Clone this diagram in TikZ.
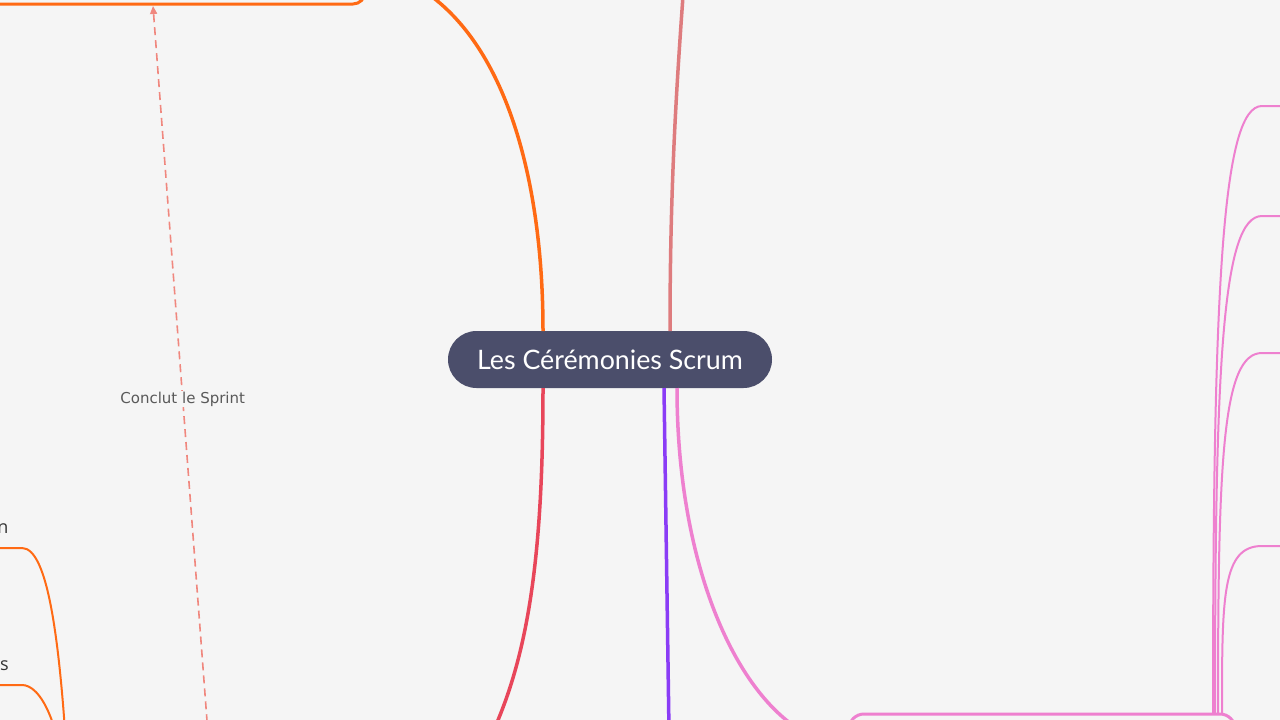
\documentclass[tikz,border=0pt]{standalone}
\usepackage{fontspec}
\setmainfont{Open Sans}
\newfontfamily\rootfont{Lato}
\newfontfamily\linkfont{DejaVu Sans}
\usetikzlibrary{arrows.meta}

\definecolor{bgcol}{HTML}{F5F5F5}
\definecolor{rootcol}{HTML}{4B4E6B}
\definecolor{orangecol}{HTML}{FF6A14}
\definecolor{redcol}{HTML}{E8465A}
\definecolor{salmoncol}{HTML}{DE7C7E}
\definecolor{purplecol}{HTML}{8A3CF6}
\definecolor{pinkcol}{HTML}{EE80CF}
\definecolor{linkcol}{HTML}{F0877E}

\tikzset{
  branch/.style={line width=3.5pt},
  twig/.style={line width=2pt},
  rootbox/.style={fill=rootcol, text=white, rounded corners=28.5pt,
    minimum width=324pt, minimum height=57pt, inner sep=0pt, outer sep=0pt,
    font=\rootfont\fontsize{26.8}{30}\selectfont},
  topicbox/.style={line width=3pt, inner sep=0pt, outer sep=0pt},
  kidtext/.style={text=black!80, inner sep=0pt, font=\fontsize{18}{22}\selectfont},
  dashlink/.style={linkcol, line width=1.6pt, dash pattern=on 8pt off 5pt,
    -{Triangle[length=8pt,width=7pt]}},
  linklabel/.style={fill=bgcol, text=black!65, inner sep=1pt,
    font=\linkfont\fontsize{15}{17}\selectfont}
}

\begin{document}
\begin{tikzpicture}[x=1pt,y=-1pt]

    \useasboundingbox (0,0) rectangle (1280,720);
    \fill[bgcol] (0,0) rectangle (1280,720);

    % Central topic
    \node[rootbox] (root) at (610,359.5) {\raisebox{-3pt}{Les Cérémonies Scrum}};

    % Topic boxes cut by the page edge
    \node[topicbox, draw=orangecol, rounded corners=12pt, minimum width=400pt,
      minimum height=74pt, anchor=south east] (planning) at (365,4) {};
    \node[topicbox, draw=pinkcol, rounded corners=15pt, minimum width=386pt,
      minimum height=62pt, anchor=north west] (review) at (849,714) {};

    % Ends of the branches outside the page
    \coordinate (retroEnd) at (440,820);
    \coordinate (topEnd) at (690,-100);
    \coordinate (dailyEnd) at (670,800);
    \coordinate (leftParent) at (70,820);
    \coordinate (sprintSrc) at (213,800);

    % Branch up to the planning box
    \draw[branch, orangecol] ([xshift=-67pt]root.north)
      .. controls +(0,-181) and +(125,23) .. (planning.east);

    % Branch down to the left
    \draw[branch, redcol] ([xshift=-67pt]root.south)
      .. controls +(0,232) and +(75,-100) .. (retroEnd);

    % Branch straight up
    \draw[branch, salmoncol] ([xshift=60pt]root.north)
      .. controls +(0,-181) and +(-10,140) .. (topEnd);

    % Branch straight down
    \draw[branch, purplecol] ([xshift=54pt]root.south) -- (dailyEnd);

    % Branch to the review box
    \draw[branch, pinkcol] ([xshift=67pt]root.south)
      .. controls +(0,212) and +(-88,0) .. (review.west);

    % Sub-topics of the review box
    \foreach \dx/\ty/\k in {171/106/1, 173/216/2, 176/353/3, 180/546/4}{
      \coordinate (kid\k) at (1262,\ty);
      \coordinate (kidend\k) at (1290,\ty);
      \draw[twig, pinkcol] ([xshift=\dx pt]review.north)
        .. controls +(0,{-0.7*(714-\ty)}) and +(-40,0) .. (kid\k) -- (kidend\k);
    }

    % Sub-topics on the left edge
    \node[kidtext, anchor=base east] (nKid) at (8.5,533) {n};
    \node[kidtext, anchor=base east] (sKid) at (9,670) {s};
    \coordinate (nStart) at (-10,548);
    \coordinate (nLine) at (22,548);
    \coordinate (sStart) at (-10,685);
    \coordinate (sLine) at (22,685);
    \draw[twig, orangecol] (nStart) -- (nLine)
      .. controls +(26,0) and +(-8,-180) .. (leftParent);
    \draw[twig, orangecol] (sStart) -- (sLine)
      .. controls +(18,0) and +(-8,-100) .. (leftParent);

    % Dashed relation to the planning box
    \draw[dashlink] (sprintSrc) -- node[linklabel, pos=0.505] {Conclut le Sprint}
      ([xshift=188pt, yshift=-2pt]planning.south west);

\end{tikzpicture}
\end{document}
